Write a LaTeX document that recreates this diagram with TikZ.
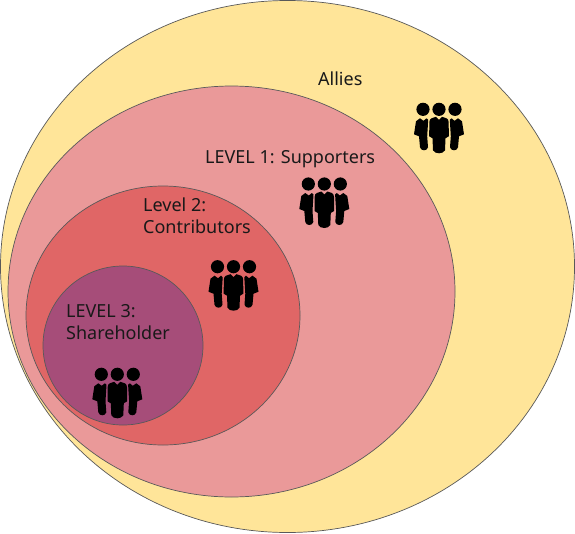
\documentclass[tikz,border=0pt]{standalone}
\usepackage{fontspec}
\setmainfont{Noto Sans}
\usetikzlibrary{shapes.geometric}

\definecolor{alliesfill}{HTML}{FFE599}
\definecolor{supportersfill}{HTML}{EA9999}
\definecolor{contributorsfill}{HTML}{E06666}
\definecolor{shareholderfill}{HTML}{A64D79}

\tikzstyle{ring} = [
ellipse,
inner sep=0pt,
draw=black!65,
line width=0.7pt
]
\tikzstyle{caption} = [
inner sep=0pt,
anchor=base west,
align=left,
text=black!90,
font=\fontsize{18}{22}\selectfont
]

\tikzset{
people/.pic={
\fill (-16,0) circle (6.6);
\fill (0,0) circle (6.6);
\fill (16,0) circle (6.6);
% centre figure
\fill (-3,7.5) -- (0,10.5) -- (3,7.5) -- (7.5,9) .. controls (9,9.5) and (9.5,11) .. (9.7,13)
-- (9.8,27) -- (6.5,29) -- (6,41) .. controls (4,45) and (-4,45) .. (-6,41)
-- (-6.5,29) -- (-9.8,27) -- (-9.7,13) .. controls (-9.5,11) and (-9,9.5) .. (-7.5,9) -- cycle;
% side figures
\fill (-19,9) -- (-15.5,11.5) -- (-12.5,9) -- (-10.8,10.5) -- (-11.8,27) -- (-11,38)
.. controls (-12,42) and (-18,42) .. (-19,38) -- (-20,27) -- (-25,25) -- (-23,12) -- cycle;
\fill (19,9) -- (15.5,11.5) -- (12.5,9) -- (10.8,10.5) -- (11.8,27) -- (11,38)
.. controls (12,42) and (18,42) .. (19,38) -- (20,27) -- (25,25) -- (23,12) -- cycle;
}
}

\begin{document}
\begin{tikzpicture}[x=1pt,y=-1pt]

\useasboundingbox (0,0) rectangle (575,533);

\node (allies) [ring, fill=alliesfill, minimum width=574pt, minimum height=532pt] at (287.5,266.5) {};

\node (supporters) [ring, fill=supportersfill, minimum width=447pt, minimum height=411pt] at (231.5,291.5) {};

\node (contributors) [ring, fill=contributorsfill, minimum width=274pt, minimum height=259pt] at (163,315.5) {};

\node (shareholder) [ring, fill=shareholderfill, minimum width=160pt, minimum height=159pt] at (123,345.5) {};

\node (alliestext) [caption] at (318,85) {Allies};

\node (supporterstext) [caption] at (205,163) {LEVEL 1: Supporters};

\node (contributorstext) [caption] at (143,233) {Level 2:\\Contributors};

\node (shareholdertext) [caption] at (66,339) {LEVEL 3:\\Shareholder};

\pic at (439,109.3) {people};

\pic at (324.3,184) {people};

\pic at (233.5,266.7) {people};

\pic at (117.3,374.3) {people};

\end{tikzpicture}
\end{document}
